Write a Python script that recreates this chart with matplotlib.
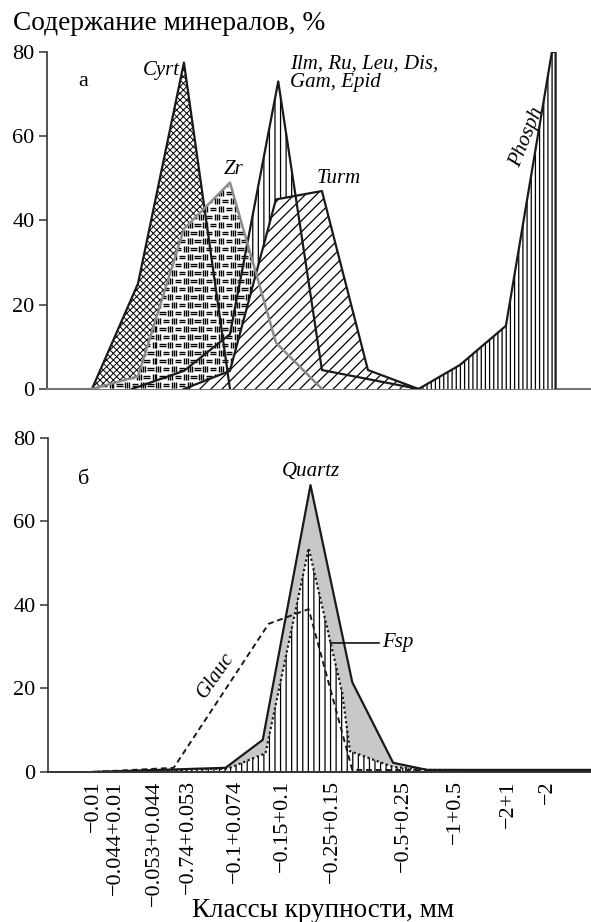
import numpy as np
import matplotlib
matplotlib.use('Agg')
import matplotlib.pyplot as plt
from matplotlib.collections import LineCollection

plt.rcParams['font.family'] = ['Liberation Serif', 'DejaVu Serif']
plt.rcParams['hatch.linewidth'] = 0.9

# size classes (positions along the class axis)
class_labels = ['−0.01', '−0.044+0.01', '−0.053+0.044', '−0.74+0.053', '−0.1+0.074',
                '−0.15+0.1', '−0.25+0.15', '−0.5+0.25', '−1+0.5', '−2+1', '−2']
class_pos = [0.02, 0.5, 1.33, 2.09, 3.11, 4.13, 5.22, 6.76, 7.89, 9.04, 9.89]

# panel а, content %
cyrt_x = [0, 1, 2, 3]
cyrt_y = [0, 25, 77.5, 0]
zr_x = [0, 1, 2, 3, 4, 5]
zr_y = [0, 3, 38, 49, 11, 0]
ilm_x = [0.87, 2, 3, 4.05, 5, 7.1]
ilm_y = [0, 4.3, 13, 73, 4.5, 0]
turm_x = [2, 3, 4, 5, 6, 7.1]
turm_y = [0, 4.3, 45, 47, 4.5, 0]
phosph_x = [7.1, 8, 9, 10, 10.08]
phosph_y = [0, 5.7, 15, 80, 80]

# panel б, content %
quartz_x = [0, 2.89, 3.7, 4.74, 5.65, 6.54, 7.28, 10.85]
quartz_y = [0, 1, 7.7, 68.7, 21.5, 2.2, 0.5, 0.5]
fsp_x = [0, 2.94, 3.76, 4.7, 5.43, 5.6, 6.54, 7.3, 10.85]
fsp_y = [0, 0.8, 4.5, 53.6, 19, 5, 1.2, 0.5, 0.3]
glauc_x = [0, 1.76, 3.83, 4.7, 5.65, 10.85]
glauc_y = [0, 1, 35.5, 39, 0.5, 0.3]


def brick(ax, x, y, z):
    # Zr pattern: alternating "=" and "|||" blocks
    poly = ax.fill(x, y, facecolor='white', edgecolor='none', zorder=z)[0]
    cw, rh = 0.17, 1.9
    segs = []
    for r, y0 in enumerate(np.arange(0, max(y) + rh, rh)):
        for c, x0 in enumerate(np.arange(min(x) - cw, max(x) + cw, cw)):
            x0 = x0 + (cw / 2 if r % 2 else 0)
            if (r + c) % 2 == 0:
                for f in (0.33, 0.66):
                    segs.append([(x0 + 0.015, y0 + f * rh), (x0 + cw - 0.015, y0 + f * rh)])
            else:
                for f in (0.25, 0.5, 0.75):
                    segs.append([(x0 + f * cw, y0 + 0.12 * rh), (x0 + f * cw, y0 + 0.88 * rh)])
    lc = LineCollection(segs, colors='black', linewidths=1.0, zorder=z)
    ax.add_collection(lc)
    lc.set_clip_path(poly)


fig = plt.figure(figsize=(5.91, 9.22), dpi=100)
ax1 = fig.add_axes([0.0795, 0.5781, 0.9205, 0.3655])
ax2 = fig.add_axes([0.0812, 0.1627, 0.9188, 0.3623])

for ax in (ax1, ax2):
    ax.set_xlim(-0.978, 10.85)
    ax.set_ylim(0, 80)
    ax.set_yticks([0, 20, 40, 60, 80])
    ax.spines['top'].set_visible(False)
    ax.spines['right'].set_visible(False)
    ax.spines['left'].set_color('#333333')
    ax.spines['left'].set_linewidth(1.2)
    ax.tick_params(axis='y', direction='out', length=6, width=1.1, labelsize=16,
                   color='#333333', pad=3)
    ax.tick_params(axis='x', length=0)

# --- panel а
with plt.rc_context({'hatch.linewidth': 0.7}):
    ax1.fill(cyrt_x, cyrt_y, facecolor='white', edgecolor='black', hatch='xxxxx', lw=0, zorder=1)
ax1.fill(ilm_x, ilm_y, facecolor='white', edgecolor='black', hatch='|||', lw=0, zorder=2)
brick(ax1, zr_x, zr_y, 3)
ax1.fill(turm_x, turm_y, facecolor='white', edgecolor='black', hatch='///', lw=0, zorder=4)
ax1.fill_between(phosph_x, phosph_y, 0, facecolor='white', edgecolor='black', hatch='||||',
                 lw=0, zorder=5)
ax1.plot(cyrt_x, cyrt_y, color='#1a1a1a', lw=1.6, zorder=6)
ax1.plot(ilm_x, ilm_y, color='#1a1a1a', lw=1.6, zorder=6)
ax1.plot(turm_x, turm_y, color='#1a1a1a', lw=1.6, zorder=6)
ax1.plot(zr_x, zr_y, color='#8c8c8c', lw=1.8, zorder=7)
ax1.plot(np.r_[phosph_x, phosph_x[-1]], np.r_[phosph_y, 0], color='#1a1a1a', lw=1.6, zorder=6)
ax1.spines['bottom'].set_color('#777777')
ax1.spines['bottom'].set_linewidth(1.5)
ax1.set_xticks([])

it = dict(fontsize=15, style='italic')
ax1.text(-0.2, 72.9, 'а', fontsize=16, ha='center', va='center')
ax1.text(1.91, 75.7, 'Cyrt', ha='right', va='center', **it)
ax1.text(4.3, 79.5, 'Ilm, Ru, Leu, Dis,\nGam, Epid', ha='left', va='top', linespacing=1.0, **it)
ax1.text(3.07, 52, 'Zr', ha='center', va='center', **it)
ax1.text(4.89, 50, 'Turm', ha='left', va='center', **it)
ax1.text(9.46, 59.8, 'Phosph', ha='center', va='center', rotation=68, **it)

# --- panel б
ax2.fill(quartz_x + [quartz_x[-1]], quartz_y + [0], facecolor='#c8c8c8', lw=0, zorder=1)
ax2.fill_between(fsp_x, fsp_y, 0, facecolor='white', edgecolor='black', hatch='|||',
                 lw=0, zorder=2)
ax2.plot(quartz_x, quartz_y, color='#1a1a1a', lw=1.6, zorder=4)
ax2.plot(fsp_x, fsp_y, color='#1a1a1a', lw=1.6, ls=(0, (1, 1.2)), zorder=4)
ax2.plot(glauc_x, glauc_y, color='#1a1a1a', lw=1.4, ls=(0, (3, 2)), zorder=5)
ax2.spines['bottom'].set_color('#333333')
ax2.spines['bottom'].set_linewidth(1.4)
ax2.spines['bottom'].set_zorder(6)
ax2.set_xticks(class_pos)
ax2.set_xticklabels(class_labels, rotation=90, fontsize=16, va='top', ha='center')
ax2.tick_params(axis='x', pad=6)

ax2.text(-0.2, 70, 'б', fontsize=16, ha='center', va='center')
ax2.text(4.74, 71.9, 'Quartz', ha='center', va='center', **it)
ax2.annotate('Fsp', xy=(5.17, 30.9), xytext=(6.3, 30.9), ha='left', va='center',
             arrowprops=dict(arrowstyle='-', color='black', lw=1.1, shrinkA=0, shrinkB=0),
             zorder=6, **it)
ax2.text(2.67, 23.2, 'Glauc', ha='center', va='center', rotation=55, **it)

fig.text(0.022, 0.975, 'Содержание минералов, %', fontsize=19.7, ha='left', va='center')
fig.text(0.546, 0.013, 'Классы крупности, мм', fontsize=19.5, ha='center', va='center')

fig.savefig('out.png', dpi=100)
